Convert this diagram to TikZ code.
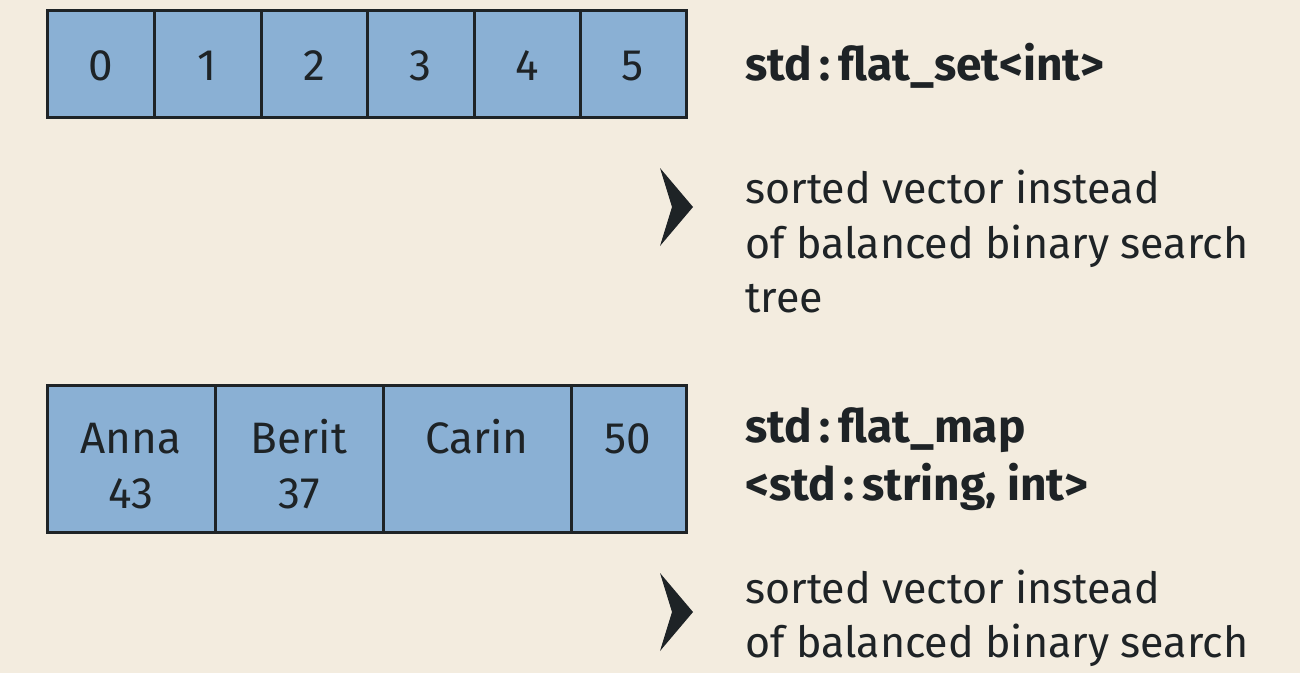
\documentclass[tikz,border=0pt]{standalone}
\usepackage{fontspec}
\setmainfont{Fira Sans}
\definecolor{bg}{HTML}{F3ECDF}
\definecolor{cell}{HTML}{8AB0D4}
\definecolor{ink}{HTML}{1E2326}
\begin{document}
\begin{tikzpicture}[x=1pt,y=-1pt,
  cellbox/.style={draw=ink,line width=3pt,fill=cell},
  txt/.style={anchor=base west,inner sep=0pt,text=ink,font=\fontsize{43}{50}\selectfont},
  ttl/.style={anchor=base west,inner sep=0pt,text=ink,font=\fontsize{46}{52}\selectfont\bfseries},
  num/.style={anchor=base,inner sep=0pt,text=ink,font=\fontsize{44}{50}\selectfont}]
\fill[bg] (0,0) rectangle (1300,673);
\useasboundingbox (0,0) rectangle (1300,673);
% top row
\foreach \a/\b/\t [count=\i] in {47/154/0,154/261/1,261/367/2,367/474/3,474/580/4,580/686/5}{
  \draw[cellbox] (\a,10) rectangle (\b,117);
  \node[num] (c\i) at ({(\a+\b)/2},80) {\t};
}
% bottom row
\draw[cellbox] (47,385) rectangle (215,532);
\draw[cellbox] (215,385) rectangle (383,532);
\draw[cellbox] (383,385) rectangle (571,532);
\draw[cellbox] (571,385) rectangle (686,532);
\node[num] (d1) at (131,453) {Anna};
\node[num] (d1b) at (131,508) {43};
\node[num] (d2) at (299,453) {Berit};
\node[num] (d2b) at (299,508) {37};
\node[num] (d3) at (477,453) {Carin};
\node[num] (d4) at (628,453) {50};
% chevrons
\fill[ink] (660,168) -- (693,207) -- (660,246) -- (672,207) -- cycle;
\fill[ink] (660,573) -- (693,612) -- (660,651) -- (672,612) -- cycle;
% texts
\node[ttl] (t1) at (745,80) {std\,:\,flat\_set<int>};
\node[txt] (s1) at (745,203) {sorted vector instead};
\node[txt] (s2) at (745,258) {of balanced binary search};
\node[txt] (s3) at (745,312) {tree};
\node[ttl] (t2) at (745,442) {std\,:\,flat\_map};
\node[ttl] (t3) at (745,500) {<std\,:\,string, int>};
\node[txt] (s4) at (745,603) {sorted vector instead};
\node[txt] (s5) at (745,657) {of balanced binary search};
\end{tikzpicture}
\end{document}
